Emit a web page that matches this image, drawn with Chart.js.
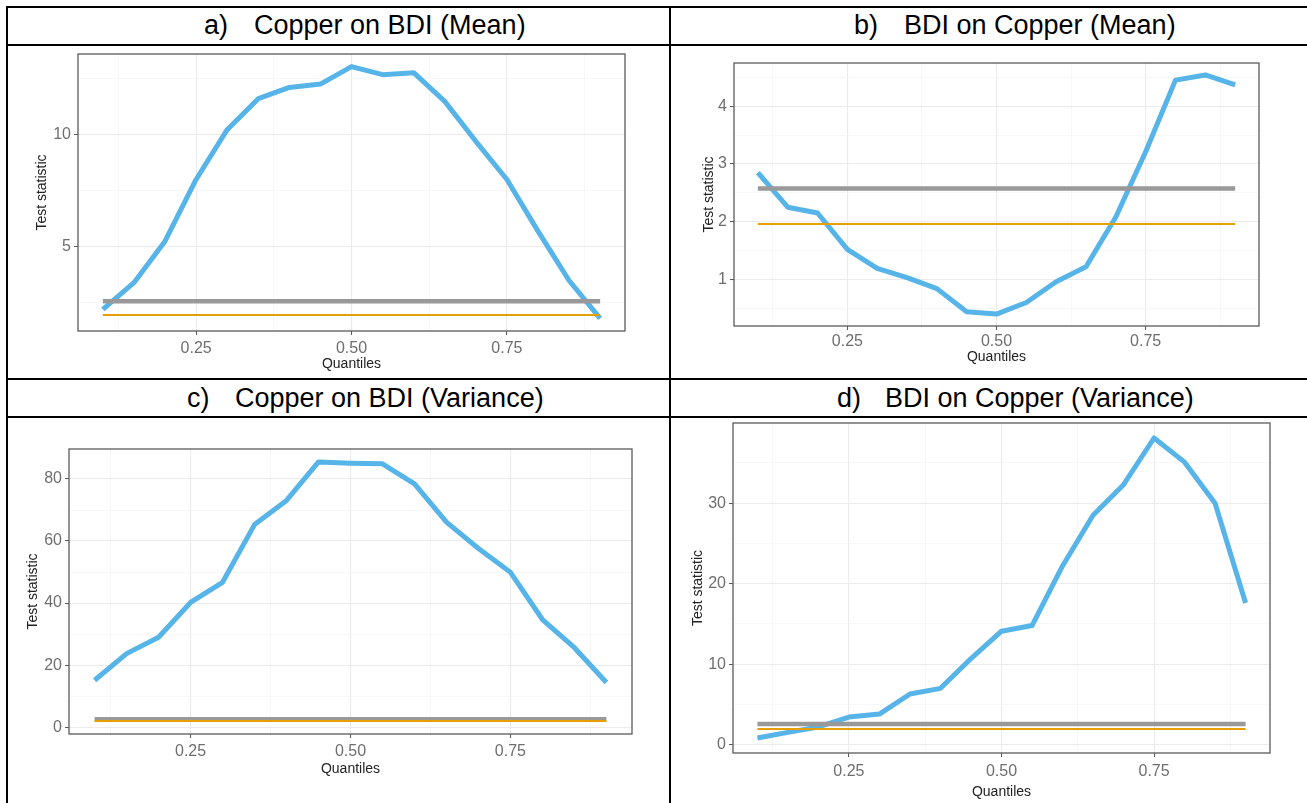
<!DOCTYPE html>
<html>
<head>
<meta charset="utf-8">
<title>Quantile causality tests</title>
<script src="https://cdn.jsdelivr.net/npm/chart.js@4.4.1/dist/chart.umd.min.js"></script>
<style>
body { margin: 0; background: #fff; width: 1307px; height: 803px; overflow: hidden; position: relative; font-family: "Liberation Sans", Arial, sans-serif; }
.hline { position: absolute; height: 2px; background: #000; }
.vline { position: absolute; width: 2px; background: #000; }
.head { position: absolute; font-size: 27px; line-height: 27px; white-space: nowrap; color: #000; }
canvas { position: absolute; }
</style>
</head>
<body>
<div class="hline" style="left:6px; top:6px; width:1301px"></div>
<div class="hline" style="left:6px; top:44px; width:1301px"></div>
<div class="hline" style="left:6px; top:378px; width:1301px"></div>
<div class="hline" style="left:6px; top:416px; width:1301px"></div>
<div class="vline" style="left:6px; top:6px; height:797px"></div>
<div class="vline" style="left:669px; top:6px; height:797px"></div>

<div class="head" style="left:204px; top:12px">a)</div>
<div class="head" style="left:254px; top:12px">Copper on BDI (Mean)</div>
<div class="head" style="left:854px; top:12px">b)</div>
<div class="head" style="left:904px; top:12px">BDI on Copper (Mean)</div>
<div class="head" style="left:187px; top:385px">c)</div>
<div class="head" style="left:235px; top:385px">Copper on BDI (Variance)</div>
<div class="head" style="left:837px; top:385px">d)</div>
<div class="head" style="left:885px; top:385px">BDI on Copper (Variance)</div>

<canvas id="chartA"></canvas>
<canvas id="chartB"></canvas>
<canvas id="chartC"></canvas>
<canvas id="chartD"></canvas>

<script>
// quantile grid used in all four panels
var quantiles = [0.10, 0.15, 0.20, 0.25, 0.30, 0.35, 0.40, 0.45, 0.50, 0.55, 0.60, 0.65, 0.70, 0.75, 0.80, 0.85, 0.90];

// test statistics
var copperOnBdiMean = [2.21, 3.40, 5.25, 8.00, 10.22, 11.60, 12.10, 12.25, 13.03, 12.67, 12.76, 11.48, 9.70, 8.00, 5.70, 3.50, 1.81];
var bdiOnCopperMean = [2.85, 2.25, 2.15, 1.52, 1.19, 1.03, 0.84, 0.44, 0.40, 0.60, 0.96, 1.22, 2.08, 3.21, 4.45, 4.54, 4.37];
var copperOnBdiVariance = [15.1, 23.7, 29.0, 40.2, 46.7, 65.3, 73.1, 85.5, 85.1, 84.9, 78.4, 66.1, 57.6, 49.9, 34.7, 25.6, 14.4];
var bdiOnCopperVariance = [0.83, 1.53, 2.20, 3.43, 3.80, 6.30, 7.00, 10.70, 14.10, 14.80, 22.20, 28.50, 32.30, 38.10, 35.10, 30.00, 17.60];

// critical values (1% grey, 5% orange)
var critical1 = 2.576;
var critical5 = 1.96;

// tick labels
var xTickValues = [0.25, 0.50, 0.75];
var xTickLabels = ['0.25', '0.50', '0.75'];
var yTicksA = [5, 10];
var yTicksB = [1, 2, 3, 4];
var yTicksC = [0, 20, 40, 60, 80];
var yTicksD = [0, 10, 20, 30];

var FONT = "'Liberation Sans', Arial, sans-serif";

// ggplot-like panel border drawn on top
var panelBorder = {
    id: 'panelBorder',
    afterDraw: function(chart) {
        var a = chart.chartArea;
        var ctx = chart.ctx;
        ctx.save();
        ctx.strokeStyle = '#5a5a5a';
        ctx.lineWidth = 1.3;
        ctx.strokeRect(a.left, a.top, a.right - a.left, a.bottom - a.top);
        ctx.restore();
    }
};

function expandedRange(values) {
    var lo = Math.min.apply(null, values);
    var hi = Math.max.apply(null, values);
    var pad = (hi - lo) * 0.05;
    return [lo - pad, hi + pad];
}

function minorTicks(major, lo, hi) {
    var step = major[1] - major[0];
    var out = [];
    for (var v = major[0] - step / 2; v <= hi; v += step) {
        if (v >= lo) out.push(v);
    }
    return out;
}

function isIn(list, v) {
    for (var i = 0; i < list.length; i++) {
        if (Math.abs(list[i] - v) < 1e-9) return i;
    }
    return -1;
}

function gridOpts(major) {
    return {
        drawTicks: true,
        tickLength: 4,
        tickWidth: 1,
        color: function(c) { return c.tick && isIn(major, c.tick.value) >= 0 ? '#EBEBEB' : '#F4F4F4'; },
        lineWidth: function(c) { return c.tick && isIn(major, c.tick.value) >= 0 ? 1.1 : 0.7; },
        tickColor: function(c) { return c.tick && isIn(major, c.tick.value) >= 0 ? '#555555' : 'rgba(0,0,0,0)'; }
    };
}

function drawPanel(id, values, yMajor, box, g) {
    var canvas = document.getElementById(id);
    canvas.width = box.width;
    canvas.height = box.height;
    canvas.style.left = box.left + 'px';
    canvas.style.top = box.top + 'px';

    var xRange = expandedRange(quantiles);
    var yRange = expandedRange(values.concat([critical1, critical5]));
    var xAll = xTickValues.concat(minorTicks(xTickValues, xRange[0], xRange[1]));
    var yAll = yMajor.concat(minorTicks(yMajor, yRange[0], yRange[1]));

    var first = quantiles[0], last = quantiles[quantiles.length - 1];

    new Chart(canvas, {
        type: 'line',
        data: {
            datasets: [
                { data: [{x: first, y: critical5}, {x: last, y: critical5}], borderColor: '#E69F00', borderWidth: 2, order: 0 },
                { data: [{x: first, y: critical1}, {x: last, y: critical1}], borderColor: '#999999', borderWidth: 4.5, order: 1 },
                { data: quantiles.map(function(q, i) { return {x: q, y: values[i]}; }), borderColor: '#56B4E9', borderWidth: 5, order: 2 }
            ]
        },
        options: {
            responsive: false,
            animation: false,
            layout: {
                padding: {
                    left: 0,
                    top: g.top - box.top,
                    right: box.left + box.width - g.right,
                    bottom: 0
                }
            },
            elements: {
                point: { radius: 0 },
                line: { tension: 0, fill: false, borderJoinStyle: 'round' }
            },
            plugins: {
                legend: { display: false },
                tooltip: { enabled: false }
            },
            scales: {
                x: {
                    type: 'linear',
                    min: xRange[0],
                    max: xRange[1],
                    border: { display: false },
                    grid: gridOpts(xTickValues),
                    afterBuildTicks: function(s) { s.ticks = xAll.map(function(v) { return {value: v}; }); },
                    afterFit: function(s) { s.height = box.top + box.height - g.bottom; s.paddingLeft = 0; s.paddingRight = 0; },
                    ticks: {
                        autoSkip: false, maxRotation: 0, padding: g.xPad,
                        color: '#6e6e6e', font: { family: FONT, size: 16 },
                        callback: function(v) { var i = isIn(xTickValues, v); return i >= 0 ? xTickLabels[i] : ''; }
                    },
                    title: {
                        display: true, text: 'Quantiles', color: '#222222',
                        font: { family: FONT, size: 14 },
                        padding: { top: 0, bottom: box.top + box.height - g.xTitle - 8.4 }
                    }
                },
                y: {
                    type: 'linear',
                    min: yRange[0],
                    max: yRange[1],
                    border: { display: false },
                    grid: gridOpts(yMajor),
                    afterBuildTicks: function(s) { s.ticks = yAll.map(function(v) { return {value: v}; }); },
                    afterFit: function(s) { s.width = g.left - box.left; s.paddingTop = 0; s.paddingBottom = 0; },
                    ticks: {
                        autoSkip: false, padding: 3,
                        color: '#6e6e6e', font: { family: FONT, size: 16 },
                        callback: function(v) { return isIn(yMajor, v) >= 0 ? String(v) : ''; }
                    },
                    title: {
                        display: true, text: 'Test statistic', color: '#222222',
                        font: { family: FONT, size: 14 },
                        padding: { top: g.yTitle - box.left - 8.4, bottom: 0 }
                    }
                }
            }
        },
        plugins: [panelBorder]
    });
}

// panel geometry in page pixels
drawPanel('chartA', copperOnBdiMean, yTicksA,
    { left: 8, top: 46, width: 661, height: 332 },
    { left: 78, top: 54, right: 625, bottom: 331, xPad: 4, xTitle: 364, yTitle: 42 });
drawPanel('chartB', bdiOnCopperMean, yTicksB,
    { left: 671, top: 46, width: 636, height: 332 },
    { left: 734, top: 63, right: 1259, bottom: 326, xPad: 2, xTitle: 357, yTitle: 709 });
drawPanel('chartC', copperOnBdiVariance, yTicksC,
    { left: 8, top: 418, width: 661, height: 385 },
    { left: 69, top: 449, right: 632, bottom: 734, xPad: 4, xTitle: 769, yTitle: 33 });
drawPanel('chartD', bdiOnCopperVariance, yTicksD,
    { left: 671, top: 418, width: 636, height: 385 },
    { left: 733, top: 423, right: 1270, bottom: 753, xPad: 5, xTitle: 792, yTitle: 698 });
</script>
</body>
</html>
